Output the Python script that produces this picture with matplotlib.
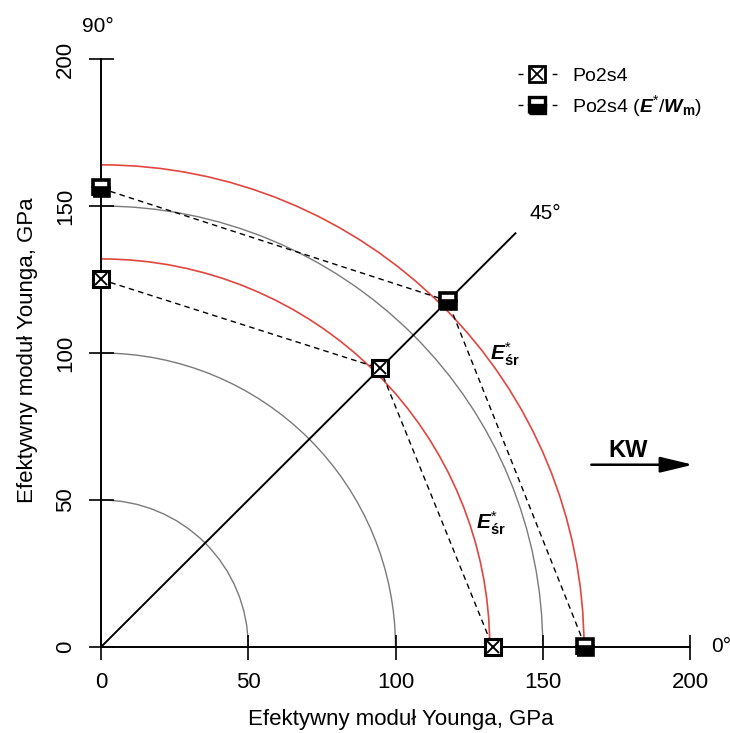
import numpy as np
import matplotlib.pyplot as plt
from matplotlib.patches import Arc
from matplotlib.lines import Line2D
from matplotlib.legend_handler import HandlerTuple

plt.rcParams["font.family"] = ["Liberation Sans", "DejaVu Sans"]
plt.rcParams["mathtext.fontset"] = "custom"
plt.rcParams["mathtext.rm"] = "Liberation Sans"
plt.rcParams["mathtext.it"] = "Liberation Sans:italic"
plt.rcParams["mathtext.bf"] = "Liberation Sans:bold"
plt.rcParams["mathtext.bfit"] = "Liberation Sans:bold:italic"

# Young's modulus (GPa) measured along 90, 45 and 0 degrees
angles = [90, 45, 0]
po2s4 = [125, 134, 133]
po2s4_ew = [156, 166.5, 164.5]
# averaged modulus arcs and reference grid circles
e_sr = [132, 164]
grid_radii = [50, 100, 150]
ticks = [0, 50, 100, 150, 200]
diag_len = 199

red = "#e2453f"


def polar_xy(r, deg):
    t = np.radians(deg)
    return np.asarray(r) * np.cos(t), np.asarray(r) * np.sin(t)


fig = plt.figure(figsize=(7.3, 7.33), dpi=100)
ax = fig.add_axes([0.13836, 0.11733, 0.80685, 0.80218])
ax.set_xlim(0, 200)
ax.set_ylim(0, 200)

for r in grid_radii:
    ax.add_patch(Arc((0, 0), 2 * r, 2 * r, theta1=0, theta2=90, color="#7a7a7a", lw=1.0))
for r in e_sr:
    ax.add_patch(Arc((0, 0), 2 * r, 2 * r, theta1=0, theta2=90, color=red, lw=1.2))

dx, dy = polar_xy(diag_len, 45)
ax.plot([0, dx], [0, dy], color="black", lw=1.4)

ms = 12
x1, y1 = polar_xy(po2s4, angles)
ax.plot(x1, y1, color="black", lw=1.0, dashes=(4, 3), zorder=3)
ax.plot(x1, y1, ls="none", marker="s", ms=ms, mfc="white", mec="black", mew=2.2, clip_on=False, zorder=4)
ax.plot(x1, y1, ls="none", marker="x", ms=ms * 0.72, mec="black", mew=1.4, clip_on=False, zorder=5)

x2, y2 = polar_xy(po2s4_ew, angles)
ax.plot(x2, y2, color="black", lw=1.0, dashes=(4, 3), zorder=3)
ax.plot(x2, y2, ls="none", marker="s", ms=ms, fillstyle="bottom", mfc="black", mfcalt="white",
        mec="black", mew=2.6, clip_on=False, zorder=4)

for s in ["top", "right"]:
    ax.spines[s].set_visible(False)
for s in ["left", "bottom"]:
    ax.spines[s].set_linewidth(1.4)
ax.set_xticks(ticks)
ax.set_yticks(ticks)
ax.tick_params(direction="inout", length=18, width=1.2, pad=9, labelsize=16, colors="black")
ax.tick_params(axis="y", labelrotation=90)
for lab in ax.get_yticklabels():
    lab.set_va("center")

ax.set_xlabel("Efektywny moduł Younga, GPa", fontsize=16, va="center")
ax.xaxis.set_label_coords(0.509, -0.124)
ax.set_ylabel("Efektywny moduł Younga, GPa", fontsize=16, va="center")
ax.yaxis.set_label_coords(-0.1256, 0.505)

ax.text(-1, 211, "90°", fontsize=15, ha="center", va="center", clip_on=False)
ax.text(210.5, 0, "0°", fontsize=15, ha="center", va="center", clip_on=False)
ax.text(150.8, 147.6, "45°", fontsize=15, ha="center", va="center")

esr = r"$\mathbfit{E}^{*}_{\mathbf{śr}}$"
ax.text(137, 99.5, esr, fontsize=15, ha="center", va="center")
ax.text(132.5, 42, esr, fontsize=15, ha="center", va="center")

ax.annotate("", xy=(201, 62), xytext=(166.5, 62),
            arrowprops=dict(arrowstyle="-|>,head_length=1.0,head_width=0.24", lw=1.8,
                            color="black", mutation_scale=20, shrinkA=0, shrinkB=0),
            annotation_clip=False)
ax.text(179, 67, "KW", fontsize=17, fontweight="bold", ha="center", va="center")

h_sq = Line2D([], [], color="black", lw=1.0, dashes=(3.6, 21), marker="s", ms=11,
              mfc="white", mec="black", mew=2.0)
h_x = Line2D([], [], ls="none", marker="x", ms=8, mec="black", mew=1.3)
h_half = Line2D([], [], color="black", lw=1.0, dashes=(3.6, 21), marker="s", ms=11,
                fillstyle="bottom", mfc="black", mfcalt="white", mec="black", mew=2.4)
fig.legend([(h_sq, h_x), h_half], ["Po2s4", r"Po2s4 ($\mathbfit{E}^{*}/\mathbfit{W}_{\mathbf{m}}$)"],
           handler_map={tuple: HandlerTuple(ndivide=1)},
           loc="upper left", bbox_to_anchor=(0.7096, 0.908), frameon=False, fontsize=14,
           borderpad=0, borderaxespad=0, handlelength=2.0, handletextpad=0.8,
           labelspacing=0.4, numpoints=1)

fig.savefig("out.png", dpi=100, facecolor="white")
